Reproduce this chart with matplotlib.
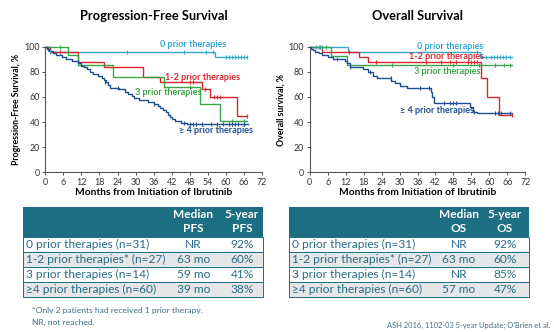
import matplotlib
matplotlib.use("Agg")
import matplotlib.pyplot as plt
from matplotlib.patches import Rectangle

plt.rcParams['font.family'] = ['Lato', 'DejaVu Sans']

# ------------------------------ colours ------------------------------ #
C0 = '#35a8d4'     # 0 prior
C12 = '#d8262f'    # 1-2 prior
C3 = '#3aa648'     # 3 prior
C4 = '#1f4f93'     # >=4 prior
TEAL = '#1c6e83'
TXT = '#2a6b86'

# ------------------------------ PFS data ------------------------------ #
pfs0_t = [0, 1.5, 56.5, 67]
pfs0_s = [100, 96, 91.5, 91.5]
pfs0_cens_t = [1.5, 27, 46, 53.3, 55.8, 60, 61, 62, 63, 64, 65, 66, 67]
pfs0_cens_s = [96, 96, 96, 96, 96, 91.5, 91.5, 91.5, 91.5, 91.5, 91.5, 91.5, 91.5]

pfs12_t = [0, 1.5, 11, 19.5, 32.5, 38, 52, 54.7, 63.6, 67]
pfs12_s = [100, 96, 88, 84, 76, 72, 66, 60, 45, 45]
pfs12_cens_t = [5, 48, 49, 53, 56, 57, 58, 67]
pfs12_cens_s = [96, 72, 72, 66, 60, 60, 60, 45]

pfs3_t = [0, 7.5, 11, 22.5, 39.5, 51.5, 58, 67]
pfs3_s = [100, 93, 85.7, 76, 68, 54, 41, 41]
pfs3_cens_t = [5, 48, 62, 66]
pfs3_cens_s = [100, 68, 41, 41]

pfs4_t = [0, 0.5, 1.2, 2.5, 3.5, 5.5, 7, 9, 11, 12, 12.8, 13.8, 14.8, 16, 17.5,
          18.8, 19.5, 20.2, 20.8, 21.5, 24.5, 26.5, 27.5, 28.8, 29.5, 31, 34,
          36, 37.5, 38.2, 39.2, 40, 40.8, 41.5, 42.2, 43, 45, 47, 67.4]
pfs4_s = [100, 98, 96.5, 95, 93, 91.5, 90, 88.5, 87, 85, 83.5, 82, 80, 78.5, 77,
          75, 73.5, 71.5, 69.5, 67.5, 66, 64, 62.5, 61, 59, 57.5, 56,
          54.5, 53, 51, 49.5, 48, 46, 44, 42.5, 41, 39.5, 38.5, 38.5]
pfs4_cens_t = [1, 20, 24, 36, 46, 48, 49, 50, 52, 55, 57, 59, 61, 62, 63, 64, 66]
pfs4_cens_s = [98, 71.5, 67.5, 54.5, 39.5, 38.5, 38.5, 38.5, 38.5, 38.5, 38.5, 38.5,
               38.5, 38.5, 38.5, 38.5, 38.5]

# ------------------------------ OS data ------------------------------ #
os0_t = [0, 12.8, 57, 67.7]
os0_s = [100, 96, 92, 92]
os0_cens_t = [2, 3, 4, 56, 59, 60.5, 61.5, 62.5, 63.5, 64.5, 65.5, 67]
os0_cens_s = [100, 100, 100, 96, 92, 92, 92, 92, 92, 92, 92, 92]

os12_t = [0, 4, 16.4, 19.4, 57.1, 59.1, 63.3, 67.5]
os12_s = [100, 96, 92, 88, 75, 60, 45.5, 45.5]
os12_cens_t = [13, 22, 39, 44, 47, 49, 53, 54, 55, 56, 67.5]
os12_cens_s = [96, 88, 88, 88, 88, 88, 88, 88, 88, 88, 45.5]

os3_t = [0, 7, 12.5, 67.5]
os3_s = [100, 92.9, 85.5, 85.5]
os3_cens_t = [3.6, 5.6, 27.5, 48, 56.5, 62, 65, 67]
os3_cens_s = [100, 100, 85.5, 85.5, 85.5, 85.5, 85.5, 85.5]

os4_t = [0, 0.5, 1, 1.8, 3, 4, 6.2, 7.9, 11.8, 12.5, 13.3, 17.9, 19.4, 21, 22.5,
         27, 28.6, 30.2, 32.4, 40.5, 41, 41.5, 42.4, 53.5, 54.6, 56, 67.5]
os4_s = [100, 98.3, 97, 96, 95, 93.4, 92, 90.3, 88.5, 87, 84.1, 82, 80, 77, 75,
         73, 71, 69, 67, 64, 60, 55.5, 55.5, 52, 48, 47, 47]
os4_cens_t = [9, 13.5, 20, 27, 37, 40, 45, 47, 48, 49, 55, 62, 63, 64, 67]
os4_cens_s = [90.3, 84.1, 80, 75, 67, 67, 55.5, 55.5, 55.5, 55.5, 48, 47, 47, 47, 47]

# ------------------------------ table data ------------------------------ #
row_labels = ['0 prior therapies (n=31)', '1-2 prior therapies* (n=27)',
              '3 prior therapies (n=14)', '\u22654 prior therapies (n=60)']
pfs_median = ['NR', '63 mo', '59 mo', '39 mo']
pfs_5yr = ['92%', '60%', '41%', '38%']
os_median = ['NR', '63 mo', 'NR', '57 mo']
os_5yr = ['92%', '60%', '85%', '47%']

W, H = 554, 332
fig = plt.figure(figsize=(W / 100, H / 100), dpi=100)


def px_axes(x0, y0, x1, y1):
    # pixel box (top-left origin) -> figure axes
    return fig.add_axes([x0 / W, 1 - y1 / H, (x1 - x0) / W, (y1 - y0) / H])


def km_panel(ax, curves, labels, title, ylabel):
    for t, s, ct, cs, col in curves:
        ax.step(t, s, where='post', color=col, lw=1.0, clip_on=False, zorder=3)
        ax.plot(ct, cs, ls='none', marker='|', ms=2.6, mew=0.8, color=col,
                clip_on=False, zorder=4)
    for (x, y, txt, col) in labels:
        ax.text(x, y, txt, color=col, fontsize=6.5, fontweight='bold',
                ha='center', va='center', zorder=5,
                family=['Lato', 'DejaVu Sans'])
    ax.set_xlim(0, 72)
    ax.set_ylim(0, 100)
    ax.set_xticks(range(0, 73, 6))
    ax.set_yticks(range(0, 101, 20))
    for sp in ['top', 'right']:
        ax.spines[sp].set_visible(False)
    for sp in ['left', 'bottom']:
        ax.spines[sp].set_color('#555555')
        ax.spines[sp].set_linewidth(0.8)
    ax.tick_params(labelsize=6.4, length=2.5, width=0.7, colors='#555555',
                   labelcolor='#333333', pad=1.5)
    ax.set_xlabel('Months from Initiation of Ibrutinib', fontsize=7.3,
                  fontweight='bold', labelpad=0.5)
    ax.set_ylabel(ylabel, fontsize=6.3, fontweight='bold', labelpad=2)
    ax.set_title(title, fontsize=9.3, fontweight='bold', pad=19)


ax1 = px_axes(45.3, 46.7, 262, 172.3)
km_panel(ax1,
         [(pfs0_t, pfs0_s, pfs0_cens_t, pfs0_cens_s, C0),
          (pfs12_t, pfs12_s, pfs12_cens_t, pfs12_cens_s, C12),
          (pfs3_t, pfs3_s, pfs3_cens_t, pfs3_cens_s, C3),
          (pfs4_t, pfs4_s, pfs4_cens_t, pfs4_cens_s, C4)],
         [(49, 102, '0 prior therapies', C0),
          (52.3, 75.3, '1-2 prior therapies', C12),
          (40.9, 63.7, '3 prior therapies', C3),
          (56.7, 33.1, '\u2265 4 prior therapies', C4)],
         'Progression-Free Survival', 'Progression-Free Survival, %')

ax2 = px_axes(309.7, 46.7, 525.3, 172.3)
km_panel(ax2,
         [(os0_t, os0_s, os0_cens_t, os0_cens_s, C0),
          (os12_t, os12_s, os12_cens_t, os12_cens_s, C12),
          (os3_t, os3_s, os3_cens_t, os3_cens_s, C3),
          (os4_t, os4_s, os4_cens_t, os4_cens_s, C4)],
         [(47, 100.5, '0 prior therapies', C0),
          (45.7, 92, '1-2 prior therapies', C12),
          (46, 80, '3 prior therapies', C3),
          (42.4, 49.6, '\u2265 4 prior therapies', C4)],
         'Overall Survival', 'Overall survival, %')

# ------------------------------ tables ------------------------------ #
ov = fig.add_axes([0, 0, 1, 1])
ov.set_xlim(0, W)
ov.set_ylim(H, 0)
ov.axis('off')


def draw_table(x0, x1, col_med, col_5y, lab_x, endpoint, med, five):
    top, head_bot, row_h = 206.7, 236.7, 15
    fs = 8.6
    ov.add_patch(Rectangle((x0, top), x1 - x0, head_bot - top,
                           facecolor=TEAL, edgecolor='none'))
    for cx, word in [(col_med, 'Median'), (col_5y, '5-year')]:
        ov.text(cx, 214.5, word, color='white', fontsize=fs,
                fontweight='bold', ha='center', va='center')
        ov.text(cx, 229, endpoint, color='white', fontsize=fs,
                fontweight='bold', ha='center', va='center')
    for i, lab in enumerate(row_labels):
        y = head_bot + i * row_h
        fc = 'white' if i % 2 == 0 else '#e4e6e8'
        ov.add_patch(Rectangle((x0, y), x1 - x0, row_h, facecolor=fc,
                               edgecolor=TEAL, linewidth=0.7))
        yc = y + row_h / 2 + 0.3
        ov.text(lab_x, yc, lab, color=TXT, fontsize=fs, ha='left',
                va='center', family=['Lato', 'DejaVu Sans'])
        ov.text(col_med, yc, med[i], color=TXT, fontsize=fs, ha='center',
                va='center')
        ov.text(col_5y, yc, five[i], color=TXT, fontsize=fs, ha='center',
                va='center')


draw_table(22.7, 263.3, 193.5, 242, 25.5, 'PFS', pfs_median, pfs_5yr)
draw_table(288.7, 528.7, 459, 505, 291.5, 'OS', os_median, os_5yr)

ov.text(32, 310.5, '*Only 2 patients had received 1 prior therapy.',
        color='#3f6f86', fontsize=6.1, ha='left', va='center')
ov.text(32, 322, 'NR, not reached.', color='#3f6f86', fontsize=6.1,
        ha='left', va='center')
ov.text(550, 325.5, "ASH 2016, 1102-03 5-year Update; O'Brien et al.",
        color='#3f6f86', fontsize=5.4, ha='right', va='center')

fig.savefig('out.png', dpi=100)
